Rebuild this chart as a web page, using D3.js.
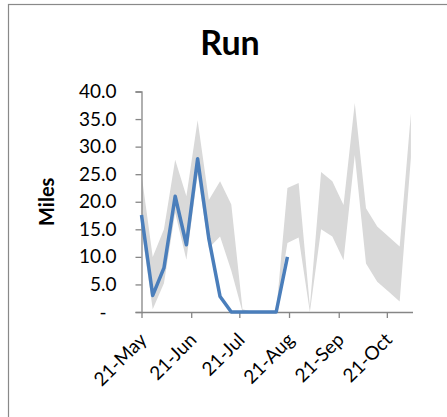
<!DOCTYPE html>
<html>
<head>
<meta charset="utf-8">
<script src="https://cdn.jsdelivr.net/npm/d3@7"></script>
<style>
  html, body { margin: 0; padding: 0; background: #fff; }
  svg { display: block; }
</style>
</head>
<body>
<div id="container"></div>
<script>
// Weekly dates
const weekDates = [
  "2011-05-21", "2011-05-28", "2011-06-04", "2011-06-11", "2011-06-18",
  "2011-06-25", "2011-07-02", "2011-07-09", "2011-07-16", "2011-07-23",
  "2011-07-30", "2011-08-06", "2011-08-13", "2011-08-20", "2011-08-27",
  "2011-09-03", "2011-09-10", "2011-09-17", "2011-09-24", "2011-10-01",
  "2011-10-08", "2011-10-15", "2011-10-22", "2011-10-29", "2011-11-05"
];

// Miles actually run (ends mid-August)
const milesRun = [17.6, 3.0, 8.0, 21.0, 12.2, 27.8, 13.3, 2.8, 0, 0, 0, 0, 0, 10.0];

// Grey range band
const bandLow  = [15.0, 0.5, 5.2, 18.0, 9.5, 25.0, 11.6, 13.7, 7.5, 0, 0, 0, 0, 12.5, 13.5, 0, 15.0, 13.7, 9.4, 28.5, 8.8, 5.5, 3.7, 1.9, 28.0];
const bandHigh = [25.0, 10.0, 15.0, 27.6, 21.0, 34.8, 20.3, 23.7, 19.5, 0.5, 0, 0, 0, 22.5, 23.4, 1.0, 25.4, 23.7, 19.4, 37.9, 18.8, 15.5, 13.7, 11.9, 36.0];

// Axis ticks
const xTickDates = ["2011-05-21", "2011-06-21", "2011-07-21", "2011-08-21", "2011-09-21", "2011-10-21"];
const xDomain = ["2011-05-21", "2011-11-06"];
const yTickValues = [0, 5, 10, 15, 20, 25, 30, 35, 40];

const parse = d3.timeParse("%Y-%m-%d");
const FONT = "Lato, 'Open Sans', sans-serif";
const AXIS_COLOR = "#868686";

var margin = { top: 91.5, left: 141.5 },
    width = 271,
    height = 220.5;

var svg = d3.select("#container")
    .append("svg")
    .attr("width", 447)
    .attr("height", 417);

// Chart area border
svg.append("rect")
    .attr("x", 8.5)
    .attr("y", 4.5)
    .attr("width", 460)
    .attr("height", 430)
    .attr("fill", "#fff")
    .attr("stroke", "#898989")
    .attr("stroke-width", 1.2);

// Title
svg.append("text")
    .attr("x", 230)
    .attr("y", 55)
    .attr("text-anchor", "middle")
    .style("font-family", FONT)
    .style("font-size", "34px")
    .style("font-weight", "bold")
    .text("Run");

var g = svg.append("g")
    .attr("transform", "translate(" + margin.left + "," + margin.top + ")");

var x = d3.scaleTime()
    .domain(xDomain.map(parse))
    .range([0, width]);

var y = d3.scaleLinear()
    .domain([0, 40])
    .range([height, 0]);

// Band
let bandData = weekDates.map((d, i) => ({ date: parse(d), lo: bandLow[i], hi: bandHigh[i] }));
g.append("path")
    .datum(bandData)
    .attr("fill", "#d9d9d9")
    .attr("d", d3.area()
        .x(d => x(d.date))
        .y0(d => y(d.lo))
        .y1(d => y(d.hi))
    );

// Y axis
var yAxis = g.append("g")
    .call(d3.axisLeft(y)
        .tickValues(yTickValues)
        .tickSize(6)
        .tickPadding(19)
        .tickFormat(v => v === 0 ? "-" : d3.format(".1f")(v)));
yAxis.select(".domain").attr("stroke", AXIS_COLOR).attr("stroke-width", 1.3);
yAxis.selectAll(".tick line").attr("stroke", AXIS_COLOR).attr("stroke-width", 1.3);
yAxis.selectAll(".tick text")
    .style("font-family", FONT)
    .style("font-size", "19px")
    .attr("fill", "#000")
    .attr("dx", v => v === 0 ? -10 : 0);

// X axis
var xAxis = g.append("g")
    .attr("transform", "translate(0," + height + ")")
    .call(d3.axisBottom(x)
        .tickValues(xTickDates.map(parse))
        .tickSize(6)
        .tickSizeOuter(0)
        .tickFormat(d3.timeFormat("%d-%b")));
xAxis.select(".domain").attr("stroke", AXIS_COLOR).attr("stroke-width", 1.3);
xAxis.selectAll(".tick line").attr("stroke", AXIS_COLOR).attr("stroke-width", 1.3);
xAxis.selectAll(".tick text")
    .style("font-family", FONT)
    .style("font-size", "19px")
    .attr("fill", "#000")
    .attr("text-anchor", "end")
    .attr("dy", null)
    .attr("y", 0)
    .attr("transform", "translate(6,29) rotate(-45)");

// Miles line
let runData = milesRun.map((v, i) => ({ date: parse(weekDates[i]), v: v }));
g.append("path")
    .datum(runData)
    .attr("fill", "none")
    .attr("stroke", "#4a7ebb")
    .attr("stroke-width", 3.5)
    .attr("stroke-linejoin", "round")
    .attr("d", d3.line()
        .x(d => x(d.date))
        .y(d => y(d.v))
    );

// Y axis label
svg.append("text")
    .attr("transform", "translate(54," + (margin.top + height / 2) + ") rotate(-90)")
    .attr("text-anchor", "middle")
    .style("font-family", FONT)
    .style("font-size", "20px")
    .style("font-weight", "bold")
    .text("Miles");
</script>
</body>
</html>
